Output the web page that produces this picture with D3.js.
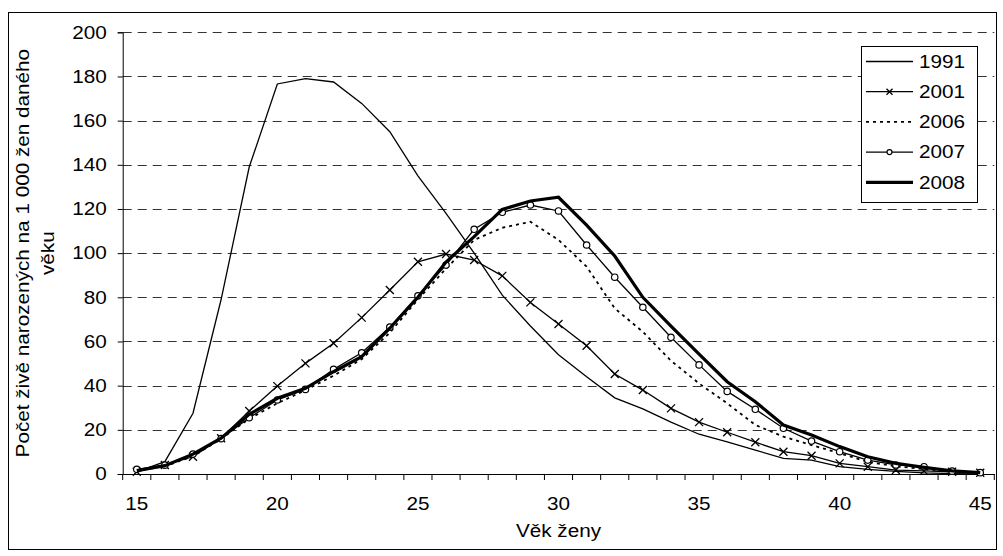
<!DOCTYPE html>
<html><head><meta charset="utf-8">
<script src="https://cdn.jsdelivr.net/npm/d3@7"></script>
<style>
html,body{margin:0;padding:0;background:#fff;}
svg{display:block;font-family:"Liberation Sans",Arial,sans-serif;}
</style></head>
<body>
<svg id="c" width="1003" height="556"></svg>
<script>
const ages = [15,16,17,18,19,20,21,22,23,24,25,26,27,28,29,30,31,32,33,34,35,36,37,38,39,40,41,42,43,44,45];
const xTickLabels = [15,20,25,30,35,40,45];
const yTicks = [0,20,40,60,80,100,120,140,160,180,200];
const v1991 = [1.0,5.6,27.5,79,139,176.6,179,177.5,167.8,155,135,118,100,81,67,54,44,34.5,29.5,23.5,18,14.5,10.8,7.1,6.3,3.3,2.1,1.2,0.5,0.2,0.1];
const v2001 = [1.0,4.1,7.8,16.2,28.5,39.8,50.1,59.2,70.8,83.3,96.1,99.6,96.9,89.7,77.7,67.9,58.1,45.3,38,29.7,23.5,18.9,14.4,10.1,8.3,4.8,3.3,1.8,1.4,1.0,0.6];
const v2006 = [1.5,3.5,8,16,25,32,38,44.5,52,64,79,93,106,111.5,114.2,106,93.9,75,64.4,51.3,41,32,22.2,16.9,13.1,9.4,5.5,3.5,2.2,1.0,0.5];
const v2007 = [2.1,4,9,16,25.5,33.5,38.3,47.4,54.9,66.5,80.7,94.6,110.8,118.5,121.8,119.1,103.7,89.1,75.5,61.9,49.4,37.4,29.3,20.7,14.9,10.1,6.3,4.1,3.3,1.3,0.6];
const v2008 = [1.5,3.8,9,16.2,27,34.3,38.8,46.3,53.1,66,80,96,107.5,119.8,123.6,125.3,112.7,98.7,80,67,54.3,41.8,32.7,22.2,17.7,12.4,7.8,4.8,3,1.4,0.6];
const seriesNames = ["1991","2001","2006","2007","2008"];
const seriesValues = [v1991,v2001,v2006,v2007,v2008];

const svg = d3.select("#c");
const L = 122.7, R = 994.3, T = 32.3, B = 474;
const x = d3.scaleBand().domain(ages).range([L,R]).padding(0);
const y = d3.scaleLinear().domain([0,200]).range([B,T]);
const cx = a => x(a) + x.bandwidth()/2;
const FS = 18, STRETCH = 1.15;
function widen(sel){
  sel.each(function(){
    const n = this.getComputedTextLength();
    if(n>0){ d3.select(this).attr("textLength", n*STRETCH).attr("lengthAdjust","spacingAndGlyphs"); }
  });
}

// outer frame
svg.append("rect").attr("x",8.5).attr("y",12.5).attr("width",988).attr("height",537)
  .attr("fill","none").attr("stroke","#000").attr("stroke-width",1);

// gridlines
svg.append("g").selectAll("line").data(yTicks.filter(d=>d>0)).join("line")
  .attr("x1",L).attr("x2",R).attr("y1",d=>Math.round(y(d))+0.5).attr("y2",d=>Math.round(y(d))+0.5)
  .attr("stroke","#333").attr("stroke-width",1).attr("stroke-dasharray","9,6");

// y axis
const ya = svg.append("g").attr("transform",`translate(${L},0)`)
  .call(d3.axisLeft(y).tickValues(yTicks).tickSize(5).tickPadding(11));
ya.select(".domain").attr("stroke","#000");
ya.selectAll("text").attr("font-size",FS).attr("font-family","Liberation Sans, Arial, sans-serif").attr("fill","#000").call(widen);

// x axis: labels
const xa = svg.append("g").attr("transform",`translate(0,${B})`)
  .call(d3.axisBottom(x).tickValues(xTickLabels).tickSize(0).tickPadding(23));
xa.select(".domain").attr("stroke","#000");
xa.selectAll("text").attr("font-size",FS).attr("font-family","Liberation Sans, Arial, sans-serif").attr("fill","#000").call(widen);
// boundary ticks
const bounds = ages.map(a=>x(a)).concat([x(ages[ages.length-1])+x.bandwidth()]);
svg.append("g").selectAll("line").data(bounds).join("line")
  .attr("x1",d=>d).attr("x2",d=>d).attr("y1",B).attr("y2",B+6).attr("stroke","#000");

// axis titles
svg.append("text").attr("x",(L+R)/2).attr("y",537).attr("text-anchor","middle")
  .attr("font-size",FS).text("Věk ženy").call(widen);
const yt = svg.append("text").attr("transform",`translate(0,${(T+B)/2}) rotate(-90)`)
  .attr("text-anchor","middle").attr("font-size",FS);
yt.append("tspan").attr("x",0).attr("y",29).text("Počet živě narozených na 1 000 žen daného").call(widen);
yt.append("tspan").attr("x",0).attr("y",54).text("věku").call(widen);

// series
const line = d3.line().x((d,i)=>cx(ages[i])).y(d=>y(d));
const styles = [
  {w:1.3, dash:null},
  {w:1.3, dash:null},
  {w:1.8, dash:"3,4"},
  {w:1.3, dash:null},
  {w:3.2, dash:null}
];
const plot = svg.append("g");
seriesValues.forEach((vals,k)=>{
  plot.append("path").datum(vals).attr("d",line).attr("fill","none")
    .attr("stroke","#000").attr("stroke-width",styles[k].w)
    .attr("stroke-dasharray",styles[k].dash).attr("stroke-linejoin","miter");
  if(k===1){
    plot.append("g").selectAll("path").data(vals).join("path")
      .attr("d",(d,i)=>{const px=cx(ages[i]),py=y(d),s=4;return `M${px-s},${py-s}L${px+s},${py+s}M${px-s},${py+s}L${px+s},${py-s}`;})
      .attr("stroke","#000").attr("stroke-width",1.3).attr("fill","none");
  }
  if(k===3){
    plot.append("g").selectAll("circle").data(vals).join("circle")
      .attr("cx",(d,i)=>cx(ages[i])).attr("cy",d=>y(d)).attr("r",3.2)
      .attr("fill","#fff").attr("stroke","#000").attr("stroke-width",1.2);
  }
});

// legend
const lg = svg.append("g");
lg.append("rect").attr("x",861.5).attr("y",46.5).attr("width",116).attr("height",156)
  .attr("fill","#fff").attr("stroke","#000");
seriesNames.forEach((n,k)=>{
  const yy = 61.5 + k*30.2;
  lg.append("line").attr("x1",866).attr("x2",913).attr("y1",yy).attr("y2",yy)
    .attr("stroke","#000").attr("stroke-width",styles[k].w).attr("stroke-dasharray",styles[k].dash);
  if(k===1){
    const px=889.5,s=3;
    lg.append("path").attr("d",`M${px-s},${yy-s}L${px+s},${yy+s}M${px-s},${yy+s}L${px+s},${yy-s}`)
      .attr("stroke","#000").attr("stroke-width",1.3);
  }
  if(k===3){
    lg.append("circle").attr("cx",889.5).attr("cy",yy).attr("r",2.5).attr("fill","#fff").attr("stroke","#000").attr("stroke-width",1.2);
  }
  lg.append("text").attr("x",919).attr("y",yy).attr("dy","0.35em").attr("font-size",FS).text(n).call(widen);
});
</script>
</body></html>
